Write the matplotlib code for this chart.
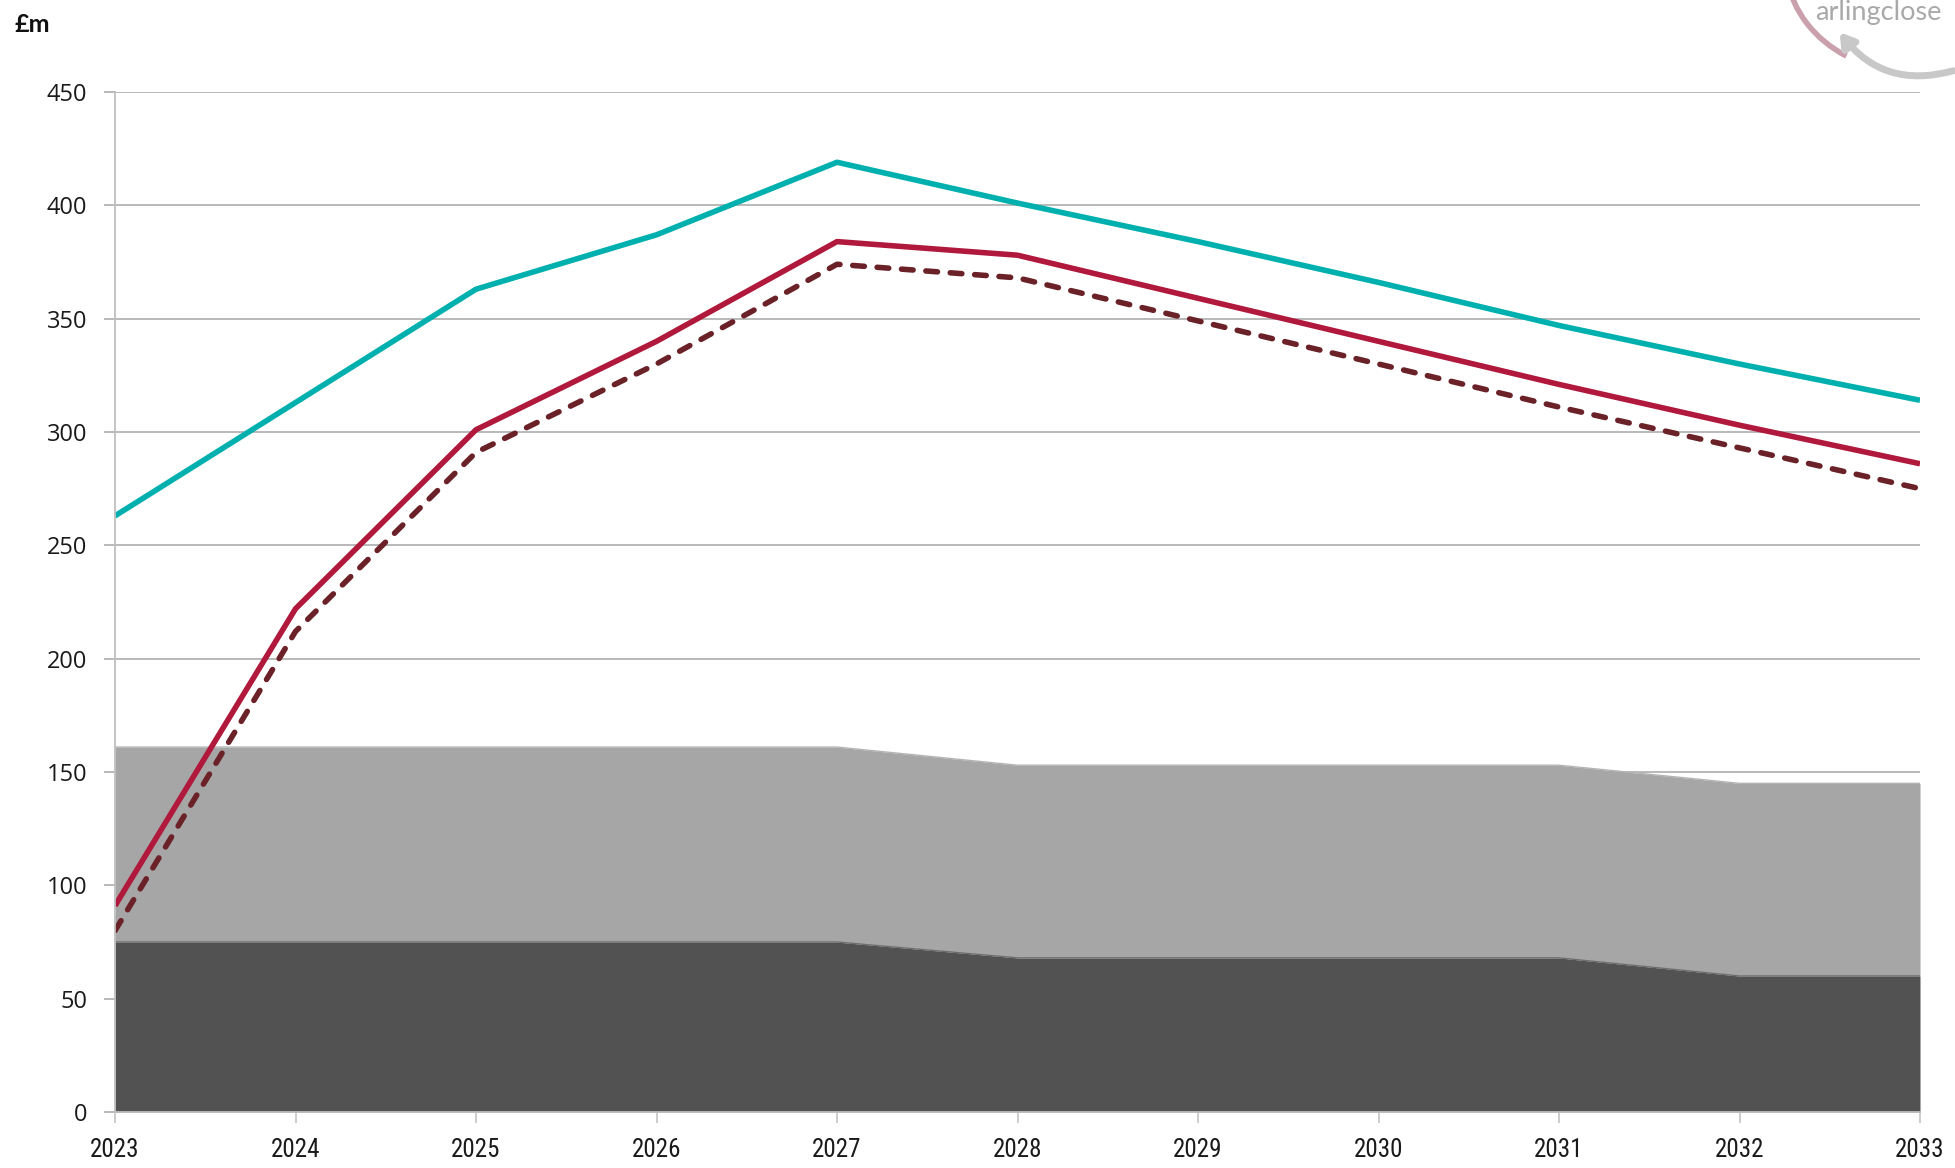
import matplotlib.pyplot as plt
from matplotlib import font_manager
from matplotlib.patches import Arc, FancyArrowPatch
import numpy as np

years = [2023, 2024, 2025, 2026, 2027, 2028, 2029, 2030, 2031, 2032, 2033]
# stacked areas (£m)
dark_area = [75, 75, 75, 75, 75, 68, 68, 68, 68, 60, 60]
total_area = [161, 161, 161, 161, 161, 153, 153, 153, 153, 145, 145]
# lines (£m)
teal_line = [263, 313, 363, 387, 419, 401, 384, 366, 347, 330, 314]
red_line = [91, 222, 301, 340, 384, 378, 359, 340, 321, 303, 286]
dashed_line = [80, 212, 291, 330, 374, 368, 349, 330, 311, 293, 275]

# pick a narrow font for the year labels if one is around
installed = {f.name for f in font_manager.fontManager.ttflist}
narrow = 'Lato'
for cand in ['Liberation Sans Narrow', 'Roboto Condensed', 'Open Sans Condensed']:
    if cand in installed:
        narrow = cand
        break

fig = plt.figure(figsize=(19.56, 11.68), dpi=100)
ax = fig.add_axes([115 / 1956, 1 - 1112 / 1168, 1805 / 1956, 1020 / 1168])

grid_col = '#A6A6A6'
ax.fill_between(years, 0, dark_area, color='#525252', lw=0, zorder=2)
ax.fill_between(years, dark_area, total_area, color='#A6A6A6', lw=0, zorder=2)
ax.plot(years, dark_area, color='#6e6e6e', lw=1, zorder=2)
ax.plot(years, total_area, color='#b4b4b4', lw=1, zorder=2)

ax.plot(years, teal_line, color='#00B0AE', lw=4, zorder=4, solid_capstyle='butt')
ax.plot(years, red_line, color='#B0183C', lw=4, zorder=4, solid_capstyle='butt')
ax.plot(years, dashed_line, color='#6B2128', lw=4, zorder=4,
        dashes=(2.1, 2.3), dash_capstyle='round')

ax.set_xlim(2023, 2033)
ax.set_ylim(0, 450)
ax.set_yticks(np.arange(0, 451, 50))
ax.set_xticks(years)
ax.yaxis.grid(True, color=grid_col, lw=1.1, zorder=1)
ax.set_axisbelow(True)
for s in ['top', 'right']:
    ax.spines[s].set_visible(False)
for s in ['left', 'bottom']:
    ax.spines[s].set_color('#BFBFBF')
    ax.spines[s].set_linewidth(1.3)
    ax.spines[s].set_zorder(5)
ax.tick_params(axis='y', length=8, color=grid_col, width=1.1, pad=12,
               labelsize=17, labelcolor='#1a1a1a')
ax.tick_params(axis='x', length=8, color='#BFBFBF', width=1.1, pad=11,
               labelsize=18, labelcolor='#1a1a1a')
for lab in ax.get_yticklabels():
    lab.set_family(['Open Sans', 'DejaVu Sans'])
for lab in ax.get_xticklabels():
    lab.set_family([narrow, 'DejaVu Sans'])

fig.text(15 / 1956, 1 - 24 / 1168, '£m', fontsize=18, fontweight='bold',
         family=['Lato', 'DejaVu Sans'], va='center', ha='left', color='#111111')

# partial logo at top right
fig.text(1815 / 1956, 1.0, 'arlingclose', fontsize=19.5, color='#9a9a9a',
         family=['Lato', 'DejaVu Sans'], va='top', ha='left', alpha=0.85)
arc = Arc((1905 / 1956, 1 - (-40) / 1168), 240 / 1956, 220 / 1168, angle=0,
          theta1=195, theta2=250, color='#C9A0AC', lw=4, transform=fig.transFigure)
fig.add_artist(arc)
arr = FancyArrowPatch((1956 / 1956, 1 - 70 / 1168), (1838 / 1956, 1 - 30 / 1168),
                      connectionstyle='arc3,rad=-0.35', arrowstyle='-|>,head_length=8,head_width=5',
                      color='#C8C8C8', lw=5, transform=fig.transFigure)
fig.add_artist(arr)

fig.savefig('out.png', dpi=100)
